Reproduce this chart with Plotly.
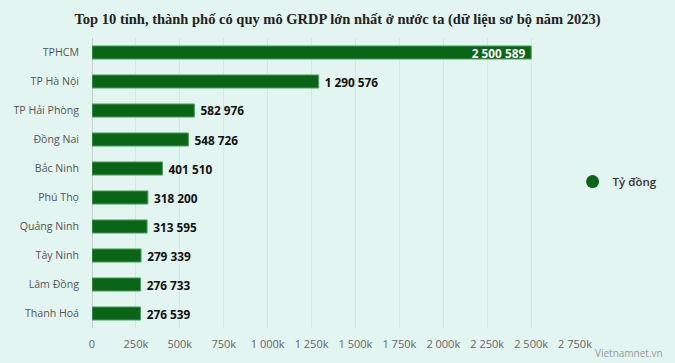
import plotly.graph_objects as go

provinces = ["TPHCM", "TP Hà Nội", "TP Hải Phòng", "Đồng Nai", "Bắc Ninh",
             "Phú Thọ", "Quảng Ninh", "Tây Ninh", "Lâm Đồng", "Thanh Hoá"]
grdp = [2500589, 1290576, 582976, 548726, 401510,
        318200, 313595, 279339, 276733, 276539]
tick_values = [0, 250000, 500000, 750000, 1000000, 1250000, 1500000,
               1750000, 2000000, 2250000, 2500000, 2750000]
tick_labels = ["0", "250k", "500k", "750k", "1 000k", "1 250k", "1 500k",
               "1 750k", "2 000k", "2 250k", "2 500k", "2 750k"]
series_name = "Tỷ đồng"
title = "Top 10 tỉnh, thành phố có quy mô GRDP lớn nhất ở nước ta (dữ liệu sơ bộ năm 2023)"

GREEN = "#0a6617"
BG = "#e3f5f0"

vmax = max(grdp)
labels = [f"{v:,}".replace(",", " ") + "\u00a0" if v == vmax
          else "\u00a0" + f"{v:,}".replace(",", " ")
          for v in grdp]
positions = ["inside" if v == vmax else "outside" for v in grdp]
colors = ["#ffffff" if v == vmax else "#111111" for v in grdp]

fig = go.Figure()
fig.add_trace(go.Bar(
    y=provinces, x=grdp, orientation="h",
    marker=dict(color=GREEN, line=dict(color="#4f9e5f", width=1)),
    text=labels, textposition=positions, insidetextanchor="end",
    constraintext="none",
    textfont=dict(family="Open Sans", size=11.8, color=colors, weight="bold"),
    cliponaxis=False, showlegend=False, hoverinfo="x+y",
))
fig.add_trace(go.Scatter(
    x=[None], y=[None], mode="markers", name=series_name,
    marker=dict(symbol="circle", size=13, color=GREEN),
    showlegend=True,
))

fig.update_layout(
    width=675, height=363,
    paper_bgcolor=BG, plot_bgcolor=BG,
    margin=dict(l=92, r=100, t=38, b=35, autoexpand=False),
    title=dict(text=title, x=0.5, xanchor="center", y=0.948, yanchor="middle",
               yref="container", automargin=False,
               font=dict(family="Liberation Serif", size=14.5, color="#222", weight="bold")),
    bargap=0.55,
    showlegend=True,
    legend=dict(x=0.995, y=0.505, xanchor="left", yanchor="middle",
                bgcolor="rgba(0,0,0,0)",
                font=dict(family="Open Sans", size=11.5, color="#333", weight=600),
                itemsizing="trace", itemwidth=30),
    xaxis=dict(range=[0, 2750000], tickvals=tick_values, ticktext=tick_labels,
               automargin=False,
               showgrid=True, gridcolor="#dde3e1", gridwidth=1,
               zeroline=True, zerolinecolor="#c8d0ce", zerolinewidth=1,
               showline=False, ticks="", ticklabelstandoff=8,
               tickfont=dict(family="Open Sans", size=11, color="#666")),
    yaxis=dict(autorange="reversed", showgrid=False, ticks="",
               automargin=False,
               ticklabelstandoff=12,
               tickfont=dict(family="Open Sans", size=10.6, color="#555")),
    annotations=[dict(text="Vietnamnet.vn", xref="paper", yref="paper",
                      x=1.0, y=0, xshift=90, yshift=-25, xanchor="right", yanchor="middle",
                      showarrow=False,
                      font=dict(family="Open Sans", size=10, color="#999"))],
)

fig.write_html("out.html", config={"displayModeBar": False},
               post_script="document.body.style.margin='0';")
